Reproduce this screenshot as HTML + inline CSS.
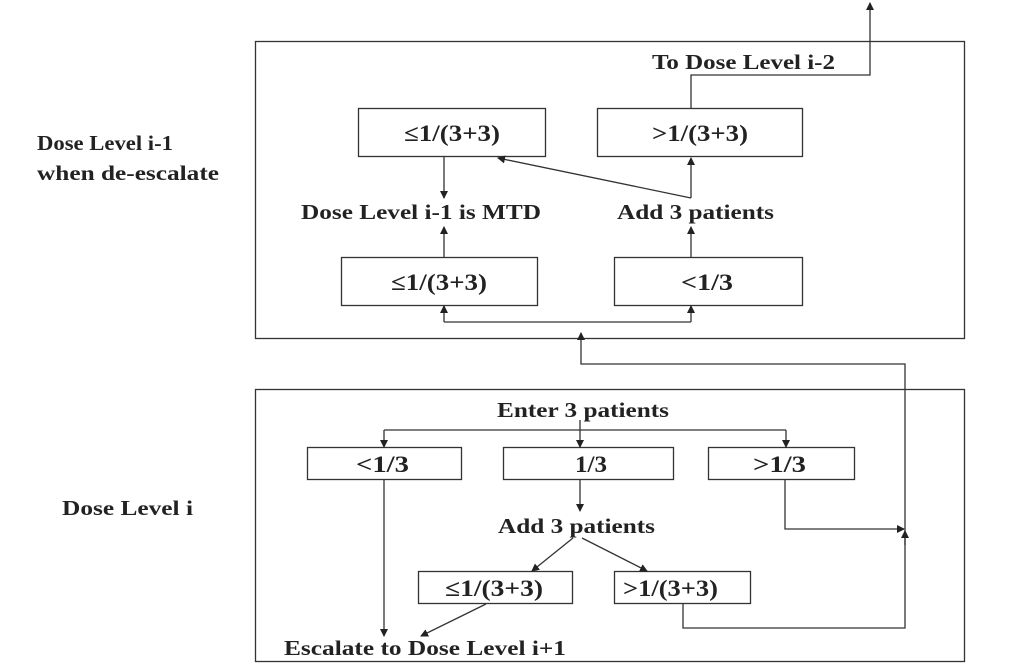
<!DOCTYPE html>
<html><head><meta charset="utf-8"><style>html,body{margin:0;padding:0;background:#fff}</style></head>
<body>
<svg width="1024" height="664" viewBox="0 0 1024 664" xmlns="http://www.w3.org/2000/svg" style="font-family:'Liberation Serif',serif" font-weight="bold" font-size="21" fill="#222">
<defs><marker id="a" markerWidth="8" markerHeight="8" refX="7" refY="4" orient="auto" markerUnits="userSpaceOnUse"><path d="M0,0 L8,4 L0,8 z" fill="#222"/></marker></defs>
<g stroke="#333" stroke-width="1.3" fill="none">
<rect x="255.5" y="41.5" width="709" height="297"/>
<rect x="255.5" y="389.5" width="709" height="272"/>
<rect x="358.5" y="108.5" width="187" height="48"/>
<rect x="597.5" y="108.5" width="205" height="48"/>
<rect x="341.5" y="257.5" width="196" height="48"/>
<rect x="614.5" y="257.5" width="188" height="48"/>
<rect x="307.5" y="447.5" width="154" height="32"/>
<rect x="503.5" y="447.5" width="170" height="32"/>
<rect x="708.5" y="447.5" width="146" height="32"/>
<rect x="418.5" y="571.5" width="154" height="32"/>
<rect x="614.5" y="571.5" width="136" height="32"/>
</g>
<g stroke="#333" stroke-width="1.3" fill="none">
<polyline points="691,108 691,75 870,75 870,3" marker-end="url(#a)"/>
<line x1="444" y1="157" x2="444" y2="198" marker-end="url(#a)"/>
<line x1="691" y1="198" x2="498" y2="158" marker-end="url(#a)"/>
<line x1="691" y1="198" x2="691" y2="158" marker-end="url(#a)"/>
<line x1="444" y1="257" x2="444" y2="227" marker-end="url(#a)"/>
<line x1="691" y1="257" x2="691" y2="227" marker-end="url(#a)"/>
<line x1="444" y1="322" x2="691" y2="322"/>
<line x1="444" y1="322" x2="444" y2="306" marker-end="url(#a)"/>
<line x1="691" y1="322" x2="691" y2="306" marker-end="url(#a)"/>
<polyline points="683,604 683,628 905,628 905,364 581,364 581,333" marker-end="url(#a)"/>
<polyline points="785,480 785,529 904,529" marker-end="url(#a)"/>
<line x1="905" y1="545" x2="905" y2="531" marker-end="url(#a)"/>
<line x1="384" y1="430" x2="786" y2="430"/>
<line x1="384" y1="430" x2="384" y2="447" marker-end="url(#a)"/>
<line x1="786" y1="430" x2="786" y2="447" marker-end="url(#a)"/>
<line x1="580" y1="420" x2="580" y2="447" marker-end="url(#a)"/>
<line x1="580" y1="480" x2="580" y2="511" marker-end="url(#a)"/>
<line x1="573" y1="538" x2="532" y2="571" marker-end="url(#a)"/>
<line x1="582" y1="538" x2="647" y2="571" marker-end="url(#a)"/>
<line x1="384" y1="480" x2="384" y2="636" marker-end="url(#a)"/>
<line x1="486" y1="604" x2="421" y2="636" marker-end="url(#a)"/>
</g>
<g stroke="none">
<text x="37" y="150" textLength="136" lengthAdjust="spacingAndGlyphs">Dose Level i-1</text>
<text x="37" y="180" textLength="182" lengthAdjust="spacingAndGlyphs">when de-escalate</text>
<text x="62" y="515" textLength="131" lengthAdjust="spacingAndGlyphs">Dose Level i</text>
<text x="652" y="69" textLength="183" lengthAdjust="spacingAndGlyphs">To Dose Level i-2</text>
<g font-size="23">
<text x="404" y="141" textLength="96" lengthAdjust="spacingAndGlyphs">≤1/(3+3)</text>
<text x="652" y="141" textLength="96" lengthAdjust="spacingAndGlyphs">&gt;1/(3+3)</text>
<text x="391" y="290" textLength="96" lengthAdjust="spacingAndGlyphs">≤1/(3+3)</text>
<text x="681" y="290" textLength="52" lengthAdjust="spacingAndGlyphs">&lt;1/3</text>
<text x="356" y="472" textLength="53" lengthAdjust="spacingAndGlyphs">&lt;1/3</text>
<text x="575" y="472" textLength="32" lengthAdjust="spacingAndGlyphs">1/3</text>
<text x="753" y="472" textLength="53" lengthAdjust="spacingAndGlyphs">&gt;1/3</text>
<text x="445" y="596" textLength="98" lengthAdjust="spacingAndGlyphs">≤1/(3+3)</text>
<text x="623" y="596" textLength="95" lengthAdjust="spacingAndGlyphs">&gt;1/(3+3)</text>
</g>
<text x="301" y="219" textLength="240" lengthAdjust="spacingAndGlyphs">Dose Level i-1 is MTD</text>
<text x="617" y="219" textLength="157" lengthAdjust="spacingAndGlyphs">Add 3 patients</text>
<text x="497" y="417" textLength="172" lengthAdjust="spacingAndGlyphs">Enter 3 patients</text>
<text x="498" y="533" textLength="157" lengthAdjust="spacingAndGlyphs">Add 3 patients</text>
<text x="284" y="655" textLength="282" lengthAdjust="spacingAndGlyphs">Escalate to Dose Level i+1</text>
</g>
</svg>
</body></html>
